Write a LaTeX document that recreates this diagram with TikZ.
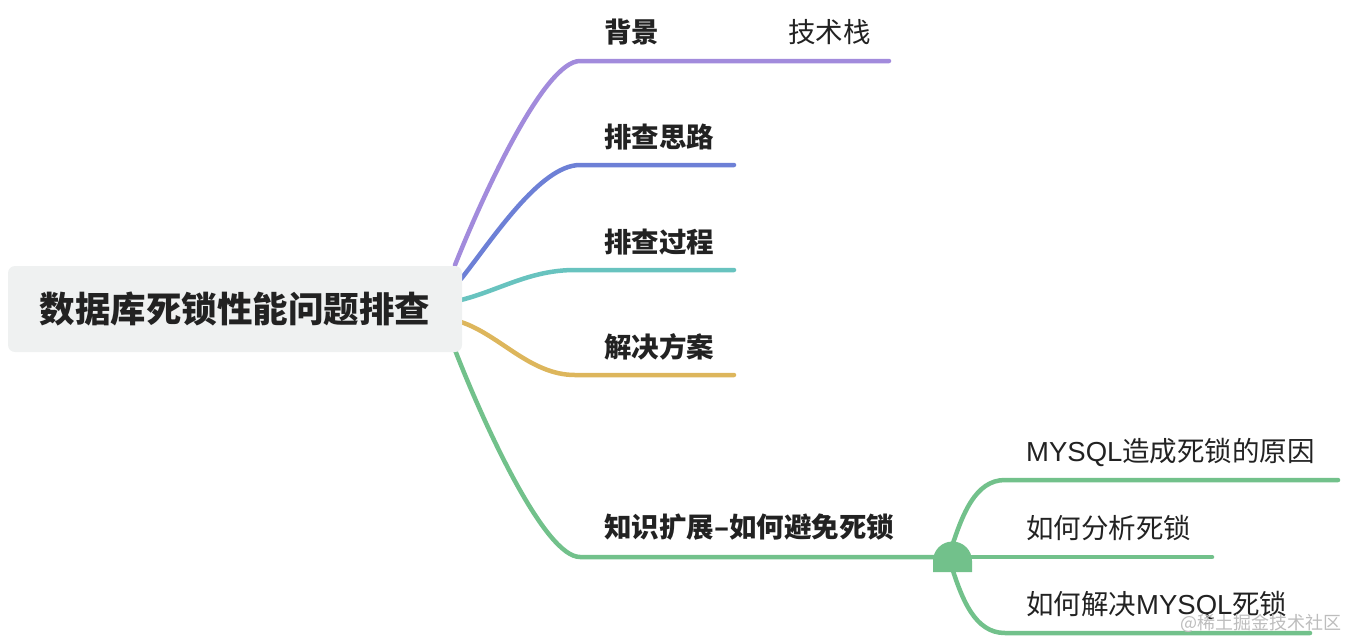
\documentclass[tikz,border=0pt]{standalone}
\usepackage{fontspec}
\setmainfont{Noto Sans CJK SC}
\newfontfamily\latfont{Liberation Sans}
\usetikzlibrary{backgrounds}
\definecolor{cpurple}{HTML}{A28BDC}
\definecolor{cblue}{HTML}{6D80D6}
\definecolor{cteal}{HTML}{68C3BF}
\definecolor{cgold}{HTML}{DDB65C}
\definecolor{cgreen}{HTML}{72C18B}
\definecolor{rootfill}{HTML}{EFF1F1}
\definecolor{txt}{HTML}{222222}
\definecolor{wmark}{HTML}{BDBDBD}
\begin{document}
\begin{tikzpicture}[x=1pt,y=-1pt,
  branch/.style={line width=4.5pt, line cap=round},
  lone/.style={font=\fontsize{27.5}{28}\selectfont\bfseries, text=txt, inner sep=0pt, anchor=west},
  ltwo/.style={font=\fontsize{27.5}{28}\selectfont, text=txt, inner sep=0pt, anchor=west},
]
\useasboundingbox (0,0) rectangle (1346,638);
% root
\node[fill=rootfill, rounded corners=7pt, minimum width=454pt, minimum height=86pt, inner sep=0pt,
      font=\fontsize{35.5}{36}\selectfont\bfseries, text=txt] (root) at (235,309) {数据库死锁性能问题排查};
% labels
\node[lone] (bg) at (604,32) {背景};
\node[ltwo] (tech) at (788,32) {技术栈};
\node[lone] (sl) at (604,137) {排查思路};
\node[lone] (gc) at (604,242) {排查过程};
\node[lone] (fa) at (604,347) {解决方案};
\node[lone] (kz) at (604,527) {知识扩展–如何避免死锁};
\node[ltwo] (m1) at (1026,452) {{\latfont MYSQL}造成死锁的原因};
\node[ltwo] (m2) at (1026,528) {如何分析死锁};
\node[ltwo] (m3) at (1026,605) {如何解决{\latfont MYSQL}死锁};
% collapse marker
\fill[cgreen] (933,572) -- (933,561) arc[start angle=180, end angle=360, radius=19.5] -- (972,572) -- cycle;
\coordinate (fold) at (952.5,557);
% watermark
\node[font=\fontsize{18}{18}\selectfont, text=wmark, inner sep=0pt, anchor=west] (wm) at (1180,623) {@稀土掘金技术社区};
\begin{pgfonlayer}{background}
  \coordinate (sP) at (455,265);
  \coordinate (sB) at (461,279);
  \coordinate (sT) at (461,300);
  \coordinate (sG) at (461,322);
  \coordinate (sK) at (455,350);
  \coordinate (eP) at (889,61);
  \coordinate (eB) at (734,165);
  \coordinate (eT) at (734,270);
  \coordinate (eG) at (734,375);
  \coordinate (e1) at (1338,480);
  \coordinate (e2) at (1212,557);
  \coordinate (e3) at (1310,633);
  \draw[branch,cpurple] (sP) .. controls (485,190) and (545,61) .. (580,61) -- (eP);
  \draw[branch,cblue] (sB) .. controls (492,240) and (540,165) .. (580,165) -- (eB);
  \draw[branch,cteal] (sT) .. controls (500,290) and (530,270) .. (575,270) -- (eT);
  \draw[branch,cgold] (sG) .. controls (500,335) and (530,375) .. (575,375) -- (eG);
  \draw[branch,cgreen] (sK) .. controls (485,427) and (545,557) .. (580,557) -- (fold);
  \draw[branch,cgreen] (fold) ++(-2,-6) .. controls (962,515) and (975,480) .. (1005,480) -- (e1);
  \draw[branch,cgreen] (fold) -- (e2);
  \draw[branch,cgreen] (fold) ++(-2,6) .. controls (962,600) and (975,633) .. (1005,633) -- (e3);
\end{pgfonlayer}
\end{tikzpicture}
\end{document}
